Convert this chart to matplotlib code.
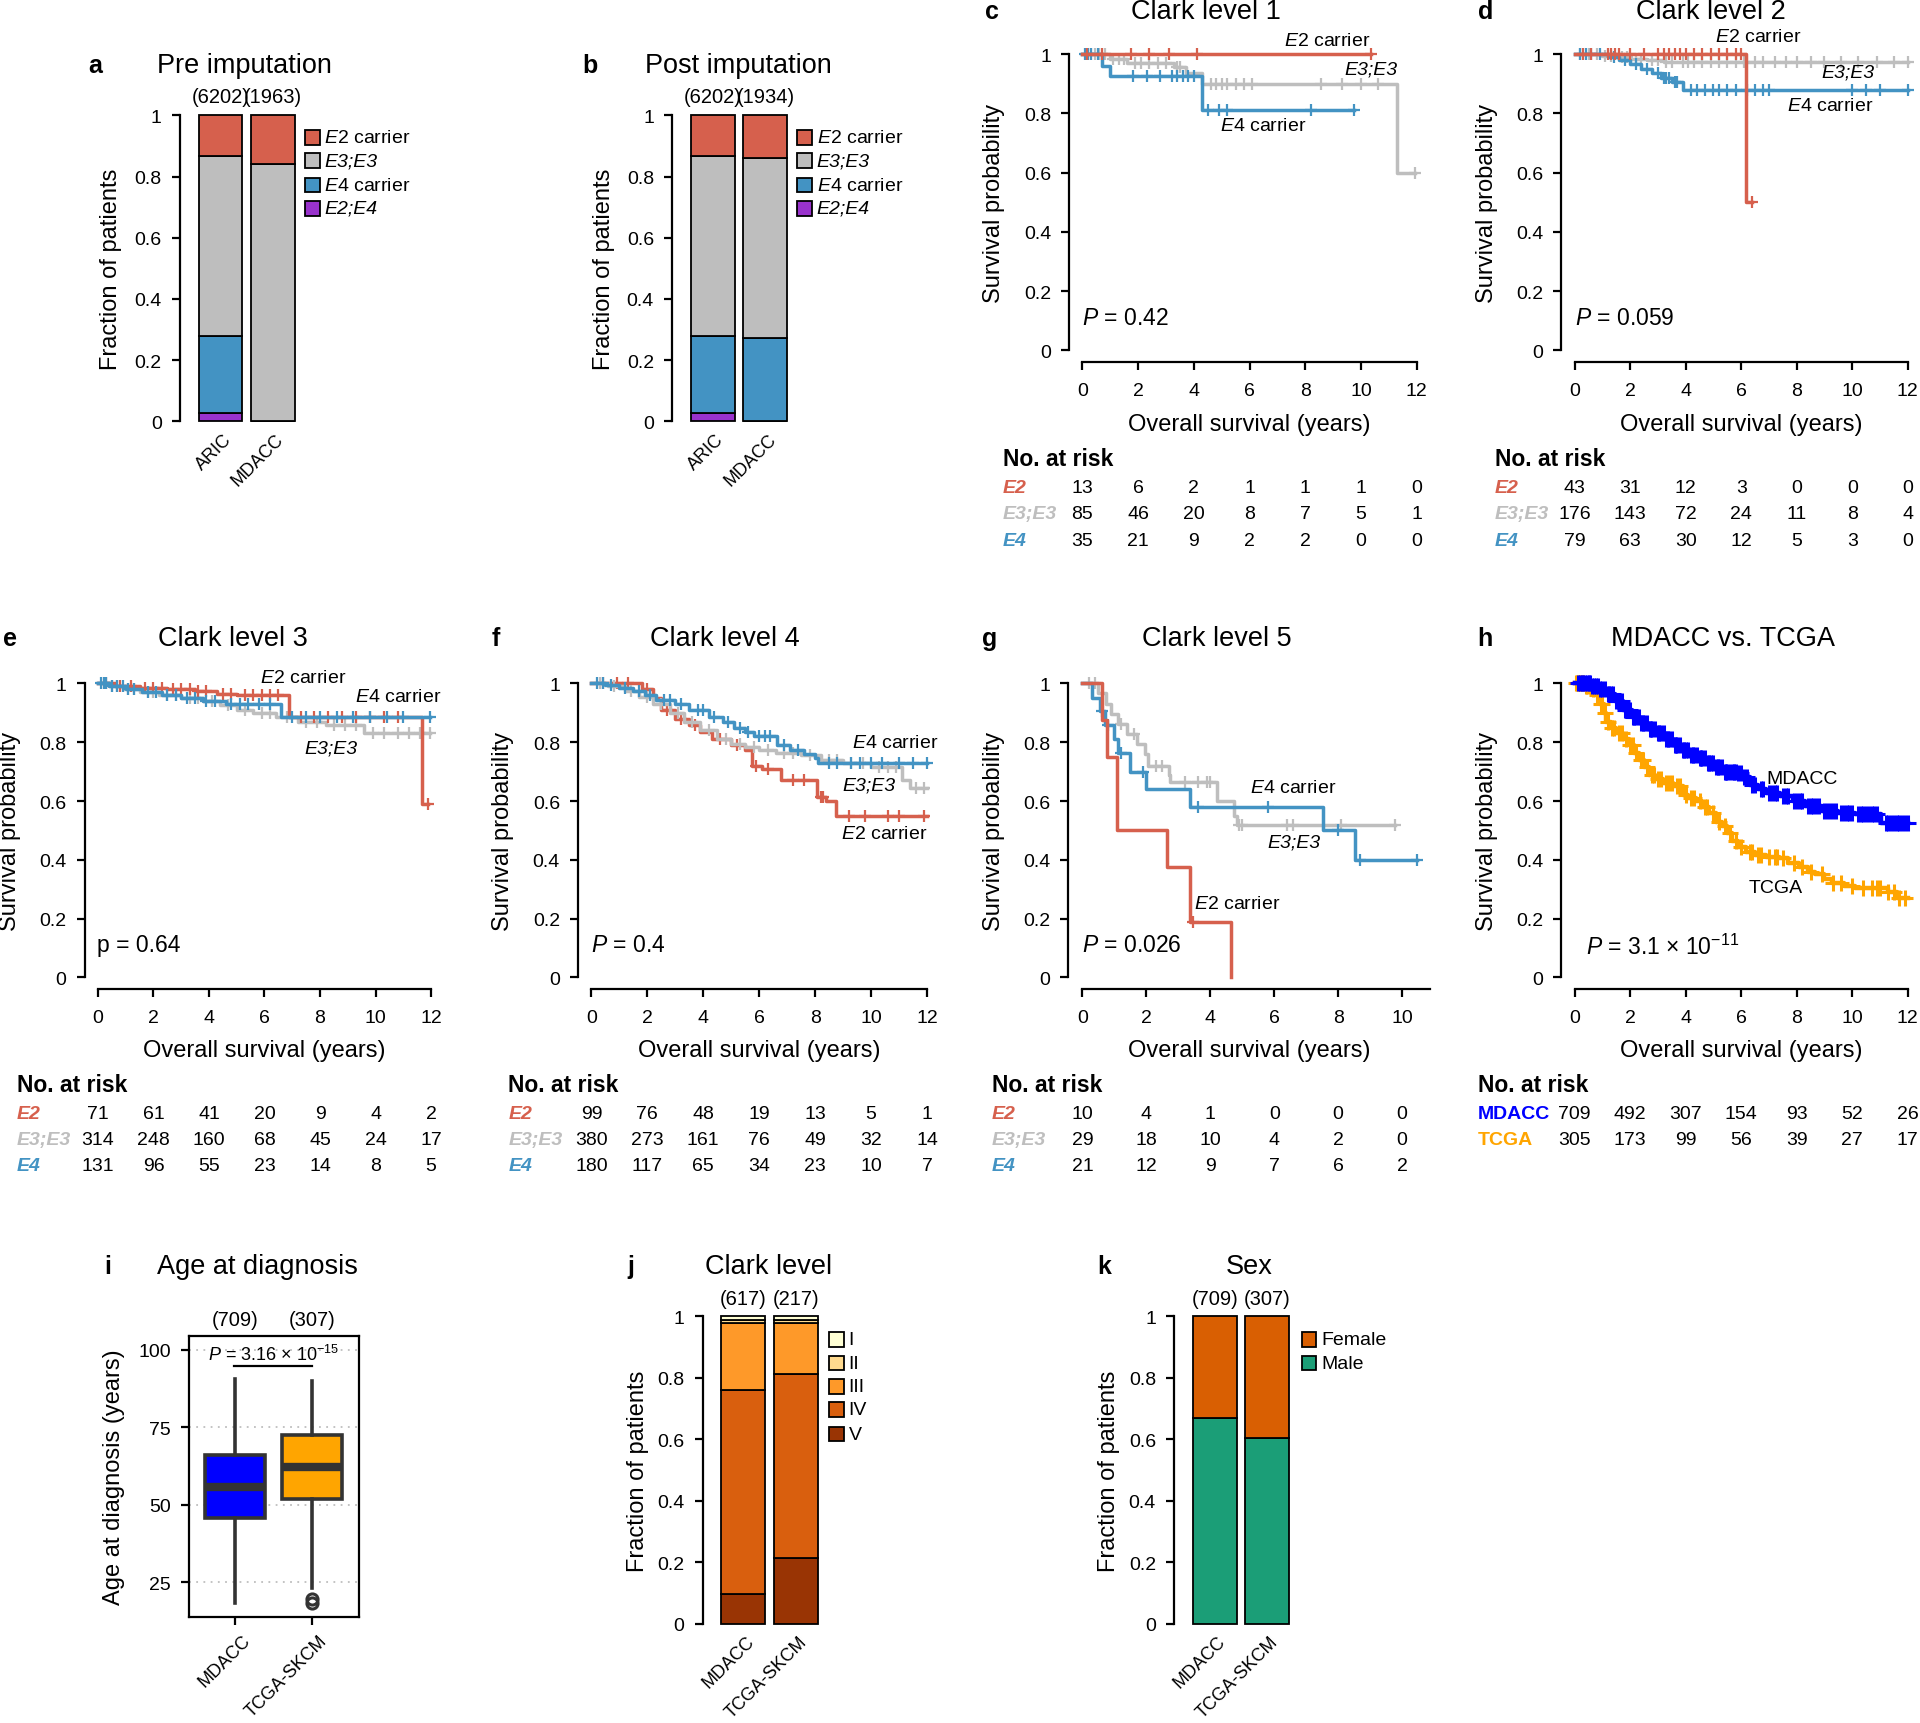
import numpy as np
import matplotlib
matplotlib.use('Agg')
import matplotlib.pyplot as plt
from matplotlib.patches import Rectangle
from matplotlib.transforms import blended_transform_factory

FONT = 'Liberation Sans'
plt.rcParams['font.family'] = [FONT, 'DejaVu Sans']
plt.rcParams['mathtext.fontset'] = 'custom'
plt.rcParams['mathtext.rm'] = FONT
plt.rcParams['mathtext.it'] = FONT + ':italic'
plt.rcParams['mathtext.bf'] = FONT + ':bold'

# ---------------- colours ----------------
RED = '#D6604D'
GREY = '#BEBEBE'
BLUE = '#4393C3'
PURPLE = '#9932CC'
MD_BLUE = '#0000FF'
TC_ORANGE = '#FFA500'
CLARK_COLORS = ['#FFFFD4', '#FED98E', '#FE9929', '#D95F0E', '#993404']
FEMALE_C = '#D95F02'
MALE_C = '#1B9E77'

# ---------------- data: panels a, b ----------------
APOE_GROUPS = ['E2 carrier', 'E3;E3', 'E4 carrier', 'E2;E4']
COHORTS_AB = ['ARIC', 'MDACC']
PRE_E24 = [0.027, 0.0]
PRE_E4 = [0.252, 0.0]
PRE_E33 = [0.588, 0.840]
PRE_E2 = [0.133, 0.160]
PRE_N = ['(6202)', '(1963)']
POST_E24 = [0.027, 0.0]
POST_E4 = [0.252, 0.274]
POST_E33 = [0.588, 0.585]
POST_E2 = [0.133, 0.141]
POST_N = ['(6202)', '(1934)']

# ---------------- data: KM panels ----------------
X_TICKS12 = [0, 2, 4, 6, 8, 10, 12]
X_TICKS10 = [0, 2, 4, 6, 8, 10]
Y_TICKS = [0, 0.2, 0.4, 0.6, 0.8, 1]
Y_TICKLABELS = ['0', '0.2', '0.4', '0.6', '0.8', '1']

# panel c: Clark level 1
C_E2_T = [0]; C_E2_S = [1.0]; C_E2_END = 10.35
C_E2_CENS = [0.15, 0.7, 1.75, 2.4, 3.1, 4.1, 10.35]
C_E33_T = [0, 1.0, 1.6, 3.3, 3.7, 4.3, 11.3]
C_E33_S = [1.0, 0.985, 0.97, 0.955, 0.935, 0.90, 0.60]
C_E33_END = 11.95
C_E33_CENS = [0.3, 0.45, 0.6, 0.8, 1.1, 1.3, 1.5, 1.9, 2.1, 2.4, 2.7, 3.0, 3.4, 3.5,
              4.6, 4.8, 5.0, 5.2, 5.5, 5.8, 6.1, 8.55, 9.3, 10.0, 10.6, 11.95]
C_E4_T = [0, 0.7, 1.0, 4.3]
C_E4_S = [1.0, 0.96, 0.925, 0.81]
C_E4_END = 9.76
C_E4_CENS = [0.1, 0.2, 0.3, 0.55, 1.8, 2.3, 2.8, 3.2, 3.4, 3.6, 3.8, 4.0, 4.5, 4.9, 5.2, 8.2, 9.76]
C_RISK_E2 = [13, 6, 2, 1, 1, 1, 0]
C_RISK_E33 = [85, 46, 20, 8, 7, 5, 1]
C_RISK_E4 = [35, 21, 9, 2, 2, 0, 0]

# panel d: Clark level 2
D_E2_T = [0, 6.17]; D_E2_S = [1.0, 0.5]; D_E2_END = 6.39
D_E2_CENS = [0.3, 0.6, 1.2, 1.3, 1.45, 1.6, 2.0, 2.5, 3.0, 3.2, 3.4, 3.6, 3.8, 4.0, 4.3,
             4.6, 4.9, 5.2, 5.5, 5.8, 6.0, 6.39]
D_E33_T = [0, 1.0, 1.5, 2.0, 2.6, 3.2, 3.7]
D_E33_S = [1.0, 0.995, 0.99, 0.985, 0.98, 0.975, 0.972]
D_E33_END = 12.0
D_E33_CENS = [0.2, 0.5, 0.8, 1.1, 1.3, 1.7, 1.9, 2.2, 2.4, 2.8, 3.0, 3.3, 3.5, 3.9, 4.1, 4.3,
              4.6, 4.9, 5.2, 5.5, 5.8, 6.1, 6.5, 6.8, 7.2, 7.6, 8.0, 8.5, 9.0, 9.6, 10.2,
              10.9, 11.5, 12.0]
D_E4_T = [0, 1.2, 1.6, 2.0, 2.4, 2.8, 3.1, 3.5, 3.9]
D_E4_S = [1.0, 0.99, 0.98, 0.965, 0.95, 0.935, 0.92, 0.905, 0.88]
D_E4_END = 12.0
D_E4_CENS = [0.2, 0.4, 0.6, 0.9, 1.4, 1.8, 2.2, 2.6, 3.0, 3.2, 3.3, 3.4, 3.6, 3.7, 4.2, 4.4,
             4.7, 5.0, 5.2, 5.5, 5.8, 6.2, 6.5, 6.8, 7.0, 10.0, 10.5, 11.0, 12.0]
D_RISK_E2 = [43, 31, 12, 3, 0, 0, 0]
D_RISK_E33 = [176, 143, 72, 24, 11, 8, 4]
D_RISK_E4 = [79, 63, 30, 12, 5, 3, 0]

# panel e: Clark level 3
E_E2_T = [0, 0.6, 1.5, 2.5, 3.5, 4.3, 5.0, 6.9, 11.67]
E_E2_S = [1.0, 0.99, 0.985, 0.98, 0.975, 0.965, 0.96, 0.885, 0.59]
E_E2_END = 11.9
E_E2_CENS = [0.3, 0.8, 1.2, 1.7, 2.0, 2.3, 2.7, 3.0, 3.3, 3.6, 3.9, 4.5, 4.8, 5.3, 5.6, 5.9,
             6.2, 6.5, 7.3, 7.8, 8.3, 8.8, 9.3, 9.8, 10.3, 10.8, 11.9]
E_E33_T = [0, 0.4, 0.9, 1.5, 2.2, 3.0, 3.8, 4.4, 5.0, 5.6, 6.4, 7.2, 8.2, 9.6]
E_E33_S = [1.0, 0.99, 0.98, 0.97, 0.96, 0.95, 0.94, 0.925, 0.91, 0.90, 0.885, 0.87, 0.86, 0.83]
E_E33_END = 11.95
E_E33_CENS = [0.2, 0.5, 0.7, 1.1, 1.3, 1.8, 2.0, 2.5, 2.8, 3.3, 3.6, 4.1, 4.7, 5.3, 5.9, 6.2,
              6.8, 7.5, 7.9, 8.5, 8.9, 9.3, 9.9, 10.3, 10.8, 11.2, 11.6, 11.95]
E_E4_T = [0, 0.4, 1.0, 1.6, 2.3, 3.0, 3.8, 4.6, 6.6]
E_E4_S = [1.0, 0.99, 0.98, 0.97, 0.96, 0.95, 0.94, 0.93, 0.885]
E_E4_END = 11.95
E_E4_CENS = [0.1, 0.2, 0.3, 0.5, 0.7, 0.9, 1.1, 1.3, 1.8, 2.1, 2.5, 2.8, 3.2, 3.5, 3.9, 4.2,
             4.8, 5.1, 5.4, 5.8, 6.2, 7.0, 7.5, 8.0, 8.6, 9.2, 9.8, 10.4, 11.0, 11.95]
E_RISK_E2 = [71, 61, 41, 20, 9, 4, 2]
E_RISK_E33 = [314, 248, 160, 68, 45, 24, 17]
E_RISK_E4 = [131, 96, 55, 23, 14, 8, 5]

# panel f: Clark level 4
F_E2_T = [0, 1.8, 2.2, 2.5, 3.0, 3.5, 3.9, 4.3, 5.0, 5.5, 5.76, 6.1, 6.79, 8.06, 8.4, 8.76]
F_E2_S = [1.0, 0.98, 0.95, 0.91, 0.88, 0.86, 0.835, 0.81, 0.79, 0.775, 0.72, 0.71, 0.67,
          0.615, 0.60, 0.55]
F_E2_END = 12.0
F_E2_CENS = [0.4, 0.9, 1.3, 2.0, 2.7, 3.2, 3.7, 4.6, 5.2, 5.9, 6.3, 7.2, 7.6, 8.2, 8.3,
             9.2, 9.8, 10.6, 11.0, 11.9]
F_E33_T = [0, 0.6, 1.2, 1.7, 2.2, 2.8, 3.3, 3.9, 4.5, 5.0, 5.5, 6.0, 6.6, 7.5, 8.2, 9.0,
           10.0, 11.1, 11.4]
F_E33_S = [1.0, 0.99, 0.975, 0.955, 0.93, 0.90, 0.87, 0.84, 0.81, 0.795, 0.785, 0.775,
           0.765, 0.755, 0.74, 0.73, 0.715, 0.67, 0.645]
F_E33_END = 12.0
F_E33_CENS = [0.3, 0.8, 1.4, 2.0, 2.5, 3.1, 3.6, 4.2, 4.8, 5.3, 5.8, 6.3, 6.9, 7.2, 7.8,
              8.5, 8.8, 9.3, 9.7, 10.3, 10.6, 10.9, 11.6, 11.9]
F_E4_T = [0, 0.5, 1.0, 1.5, 1.9, 2.3, 3.0, 3.5, 4.2, 4.7, 5.1, 5.5, 5.8, 6.65, 7.1, 7.6,
          8.0, 8.1]
F_E4_S = [1.0, 0.995, 0.985, 0.975, 0.96, 0.945, 0.93, 0.91, 0.885, 0.87, 0.85, 0.835,
          0.82, 0.79, 0.775, 0.76, 0.745, 0.73]
F_E4_END = 12.0
F_E4_CENS = [0.2, 0.4, 0.7, 1.2, 1.7, 2.1, 2.6, 2.8, 3.2, 3.8, 4.0, 4.4, 4.9, 5.3, 5.6,
             6.0, 6.2, 6.4, 6.9, 7.4, 8.5, 8.8, 9.3, 9.6, 10.0, 10.4, 11.0, 11.5, 12.0]
F_RISK_E2 = [99, 76, 48, 19, 13, 5, 1]
F_RISK_E33 = [380, 273, 161, 76, 49, 32, 14]
F_RISK_E4 = [180, 117, 65, 34, 23, 10, 7]

# panel g: Clark level 5
G_E2_T = [0, 0.6, 0.77, 1.08, 2.63, 3.38, 4.65]
G_E2_S = [1.0, 0.875, 0.75, 0.5, 0.375, 0.1875, 0.0]
G_E2_END = 4.65
G_E2_CENS = [3.45]
G_E33_T = [0, 0.5, 0.75, 0.9, 1.1, 1.4, 1.7, 1.95, 2.05, 2.7, 2.75, 4.2, 4.75, 4.85]
G_E33_S = [1.0, 0.966, 0.931, 0.897, 0.862, 0.828, 0.793, 0.759, 0.72, 0.69, 0.665, 0.60,
           0.55, 0.52]
G_E33_END = 9.77
G_E33_CENS = [0.2, 0.4, 1.2, 1.6, 2.3, 2.5, 3.2, 3.6, 3.9, 4.0, 4.9, 5.0, 6.4, 6.6, 8.1, 9.77]
G_E4_T = [0, 0.3, 0.55, 0.7, 1.0, 1.1, 1.5, 2.0, 3.37, 7.54, 8.52]
G_E4_S = [1.0, 0.952, 0.905, 0.857, 0.81, 0.762, 0.70, 0.64, 0.58, 0.50, 0.40]
G_E4_END = 10.48
G_E4_CENS = [0.6, 0.8, 1.2, 1.9, 3.6, 5.8, 8.0, 8.7, 10.48]
G_RISK_E2 = [10, 4, 1, 0, 0, 0]
G_RISK_E33 = [29, 18, 10, 4, 2, 0]
G_RISK_E4 = [21, 12, 9, 7, 6, 2]

# panel h: MDACC vs TCGA
H_MD_T = [0, 0.6, 0.9, 1.15, 1.45, 1.75, 2.05, 2.35, 2.65, 2.95, 3.25, 3.55, 3.85, 4.15,
          4.45, 4.75, 5.05, 5.35, 5.85, 6.05, 6.3, 6.6, 6.9, 7.4, 7.85, 8.3, 8.9, 9.5,
          10.1, 11.05]
H_MD_S = [1.0, 0.99, 0.98, 0.965, 0.94, 0.91, 0.885, 0.865, 0.845, 0.83, 0.81, 0.79,
          0.775, 0.757, 0.745, 0.73, 0.715, 0.70, 0.695, 0.68, 0.655, 0.64, 0.627, 0.616,
          0.60, 0.582, 0.565, 0.56, 0.557, 0.525]
H_MD_END = 12.0
H_MD_CENS = [0.12, 0.2, 0.25, 0.3, 0.38, 0.45, 0.5, 0.55, 0.62, 0.7, 0.78, 0.85, 0.92, 1.0,
             1.08, 1.2, 1.25, 1.3, 1.38, 1.5, 1.55, 1.6, 1.7, 1.8, 1.85, 1.9, 2.0, 2.1, 2.15,
             2.2, 2.3, 2.4, 2.45, 2.5, 2.6, 2.7, 2.75, 2.8, 2.9, 3.0, 3.05, 3.1, 3.2, 3.3,
             3.35, 3.4, 3.5, 3.6, 3.65, 3.7, 3.8, 3.9, 3.95, 4.0, 4.1, 4.2, 4.25, 4.3, 4.4,
             4.5, 4.55, 4.6, 4.7, 4.8, 4.85, 4.9, 5.0, 5.1, 5.15, 5.2, 5.3, 5.4, 5.45, 5.5,
             5.6, 5.7, 5.75, 5.8, 5.9, 6.0, 6.1, 6.2, 6.4, 6.5, 6.7, 6.8, 7.0, 7.1, 7.2, 7.3,
             7.5, 7.6, 7.7, 7.9, 8.0, 8.1, 8.2, 8.4, 8.5, 8.6, 8.7, 8.8, 9.0, 9.1, 9.2,
             9.3, 9.4, 9.6, 9.7, 9.8, 9.9, 10.0, 10.2, 10.3, 10.4, 10.5, 10.6, 10.7, 10.8,
             10.9, 11.2, 11.3, 11.4, 11.5, 11.6, 11.7, 11.8, 11.9, 12.0]
H_TC_T = [0, 0.35, 0.6, 0.72, 0.9, 1.05, 1.14, 1.3, 1.5, 1.75, 1.97, 2.15, 2.33, 2.5, 2.69,
          2.9, 3.17, 3.53, 3.89, 4.1, 4.37, 4.6, 4.84, 5.1, 5.32, 5.5, 5.68, 5.9, 6.16,
          6.5, 6.88, 7.36, 7.7, 8.08, 8.4, 8.67, 9.0, 9.27, 9.7, 10.1, 11.3, 11.6]
H_TC_S = [1.0, 0.99, 0.98, 0.96, 0.93, 0.90, 0.87, 0.85, 0.83, 0.81, 0.79, 0.765, 0.74,
          0.715, 0.69, 0.675, 0.66, 0.65, 0.62, 0.61, 0.60, 0.58, 0.56, 0.53, 0.515, 0.49,
          0.465, 0.445, 0.425, 0.415, 0.41, 0.405, 0.39, 0.375, 0.36, 0.35, 0.335, 0.32,
          0.31, 0.305, 0.29, 0.27]
H_TC_END = 12.0
H_TC_CENS = [0.05, 0.1, 0.15, 0.2, 0.25, 0.3, 0.4, 0.45, 0.55, 0.65, 0.8, 0.95, 1.0, 1.1,
             1.2, 1.35, 1.4, 1.6, 1.7, 1.85, 2.0, 2.1, 2.2, 2.4, 2.45, 2.6, 2.8, 2.85, 3.0,
             3.1, 3.3, 3.4, 3.5, 3.7, 3.8, 4.0, 4.2, 4.3, 4.5, 4.7, 4.75, 5.0, 5.2, 5.4,
             5.6, 5.8, 6.0, 6.3, 6.4, 6.6, 6.7, 7.0, 7.2, 7.3, 7.5, 7.9, 8.2, 8.5, 8.9,
             9.3, 9.6, 10.0, 10.4, 10.7, 10.9, 11.0, 11.3, 11.5, 11.7, 11.9]
H_RISK_MD = [709, 492, 307, 154, 93, 52, 26]
H_RISK_TC = [305, 173, 99, 56, 39, 27, 17]

# ---------------- data: panels i, j, k ----------------
COHORTS_IJK = ['MDACC', 'TCGA-SKCM']
AGE_N = ['(709)', '(307)']
AGE_Q1 = [45.6, 51.7]
AGE_MED = [55.8, 62.0]
AGE_Q3 = [65.9, 72.5]
AGE_LO = [18.3, 23.2]
AGE_HI = [90.7, 89.9]
AGE_FLIERS_TCGA = [18.2, 19.4]
AGE_TICKS = [25, 50, 75, 100]

CLARK_LEVELS = ['I', 'II', 'III', 'IV', 'V']
CLARK_N = ['(617)', '(217)']
CLARK_V = [0.096, 0.213]
CLARK_IV = [0.666, 0.599]
CLARK_III = [0.216, 0.168]
CLARK_II = [0.011, 0.010]
CLARK_I = [0.011, 0.010]

SEX_LABELS = ['Female', 'Male']
SEX_N = ['(709)', '(307)']
SEX_MALE = [0.671, 0.606]
SEX_FEMALE = [0.329, 0.394]

# ---------------- layout helpers (reference frame 1568 x 1408) ----------------
W, H = 1568.0, 1408.0
fig = plt.figure(figsize=(19.2, 17.24), dpi=100)
fig.patch.set_facecolor('white')

TICK_FS = 14
LAB_FS = 17
TITLE_FS = 19.5
LEG_FS = 14
SPINE_LW = 1.6


def fx(x):
    return x / W


def fy(y):
    return 1 - y / H


def add_ax(left, right, top, bottom):
    return fig.add_axes([fx(left), fy(bottom), (right - left) / W, (bottom - top) / H])


def ftext(x, y, s, **kw):
    kw.setdefault('ha', 'center')
    kw.setdefault('va', 'center')
    fig.text(fx(x), fy(y), s, **kw)


def panel_head(letter, lx, title, tx, y):
    ftext(lx, y, letter, fontsize=18, fontweight='bold')
    ftext(tx, y, title, fontsize=TITLE_FS)


def style_left_axis(ax, bounds):
    for sp in ['top', 'right']:
        ax.spines[sp].set_visible(False)
    ax.spines['left'].set_bounds(*bounds)
    ax.spines['left'].set_linewidth(SPINE_LW)
    ax.tick_params(axis='y', direction='out', length=6, width=SPINE_LW, pad=7,
                   labelsize=TICK_FS)


def legend_block(xsq, rows, labels, colors, italic=None):
    for i, (y, lab, col) in enumerate(zip(rows, labels, colors)):
        fig.patches.append(Rectangle((fx(xsq), fy(y + 6)), 12 / W, 12 / H,
                                     transform=fig.transFigure, facecolor=col,
                                     edgecolor='black', lw=1.3))
        st = 'italic' if (italic is not None and italic[i]) else 'normal'
        ftext(xsq + 16, y, lab, ha='left', fontsize=LEG_FS, style=st)


def bar_panel(x0, y1, y0, series, colors, counts, names, ylabel, ylab_x):
    u = 35.8
    v = y0 - y1
    ax = add_ax(x0 - 0.23 * u, x0 + 2.5 * u, y1 - 0.04 * v, y0 + 0.04 * v)
    ax.set_xlim(-0.23, 2.5)
    ax.set_ylim(-0.04, 1.04)
    centers = np.array([0.7, 1.9])
    bottom = np.zeros(2)
    for vals, col in zip(series, colors):
        vals = np.asarray(vals, dtype=float)
        ax.bar(centers, vals, width=1.0, bottom=bottom, color=col, edgecolor='black',
               linewidth=1.3, zorder=2)
        bottom = bottom + vals
    style_left_axis(ax, (0, 1))
    ax.spines['bottom'].set_visible(False)
    ax.set_xticks([])
    ax.set_yticks(Y_TICKS)
    ax.set_yticklabels(Y_TICKLABELS)
    for c, n in zip(centers, counts):
        ax.text(c, 1.06, n, ha='center', va='center', fontsize=14.5)
    for c, nm in zip(centers, names):
        ax.text(c + 0.05, -0.028, nm, rotation=45, ha='right', va='top',
                rotation_mode='anchor', fontsize=13)
    ftext(ylab_x, (y1 + y0) / 2, ylabel, rotation=90, fontsize=LAB_FS)
    return ax


def km_curve(ax, t, s, tend, cens, color, lw=2.5, ms=8, mew=1.6):
    tt = list(t) + [tend]
    ss = list(s) + [s[-1]]
    ax.step(tt, ss, where='post', color=color, lw=lw, clip_on=False, zorder=3)
    t_arr = np.asarray(t)
    s_arr = np.asarray(s)
    idx = np.searchsorted(t_arr, np.asarray(cens), side='right') - 1
    ax.plot(cens, s_arr[idx], ls='none', marker='+', ms=ms, mew=mew, color=color,
            clip_on=False, zorder=3)


def km_panel(x0, xr_disp, xr_val, y1, y0, xlim_r, axis_r, xticks):
    u = (xr_disp - x0) / xr_val
    v = y0 - y1
    xl = -0.48 if xr_val == 12 else -0.44
    ax = add_ax(x0 + xl * u, x0 + xlim_r * u, y1 - 0.04 * v, y0 + 0.04 * v)
    ax.set_xlim(xl, xlim_r)
    ax.set_ylim(-0.04, 1.04)
    style_left_axis(ax, (0, 1))
    ax.spines['bottom'].set_bounds(0, axis_r)
    ax.spines['bottom'].set_linewidth(SPINE_LW)
    ax.tick_params(axis='x', direction='out', length=6, width=SPINE_LW, pad=8,
                   labelsize=TICK_FS)
    ax.set_xticks(xticks)
    ax.set_xticklabels([str(x) for x in xticks])
    ax.set_yticks(Y_TICKS)
    ax.set_yticklabels(Y_TICKLABELS)
    ax.patch.set_alpha(0)
    bt = blended_transform_factory(ax.transAxes, ax.transData)
    ax.text(0.5, -0.247, 'Overall survival (years)', transform=bt, ha='center',
            va='center', fontsize=LAB_FS)
    ftext(x0 - 72, (y1 + y0) / 2, 'Survival probability', rotation=90, fontsize=LAB_FS)
    return ax, u


def risk_table(ax, u, xticks, rows, label_dx, bold_italic=True):
    ax.text(-label_dx / u, -0.364, 'No. at risk', ha='left', va='center',
            fontsize=16.5, fontweight='bold')
    ys = [-0.463, -0.552, -0.641]
    for (lab, col, nums), y in zip(rows, ys):
        ax.text(-label_dx / u, y, lab, ha='left', va='center', fontsize=TICK_FS,
                color=col, fontweight='bold', style='italic' if bold_italic else 'normal')
        for xt, n in zip(xticks, nums):
            ax.text(xt, y, str(n), ha='center', va='center', fontsize=TICK_FS)


def curve_label(ax, x, y, s, **kw):
    ax.text(x, y, s, ha='center', va='center', fontsize=LEG_FS, **kw)


E2C = r'$\mathit{E2}$ carrier'
E4C = r'$\mathit{E4}$ carrier'

# ================= panel a =================
panel_head('a', 78, 'Pre imputation', 200, 54)
bar_panel(155, 95, 345, [PRE_E24, PRE_E4, PRE_E33, PRE_E2],
          [PURPLE, BLUE, GREY, RED], PRE_N, COHORTS_AB, 'Fraction of patients', 91)
legend_block(249, [113, 132, 152, 171], [E2C, 'E3;E3', E4C, 'E2;E4'],
             [RED, GREY, BLUE, PURPLE], italic=[False, True, False, True])

# ================= panel b =================
panel_head('b', 482, 'Post imputation', 603, 54)
bar_panel(557, 95, 345, [POST_E24, POST_E4, POST_E33, POST_E2],
          [PURPLE, BLUE, GREY, RED], POST_N, COHORTS_AB, 'Fraction of patients', 493)
legend_block(651, [113, 132, 152, 171], [E2C, 'E3;E3', E4C, 'E2;E4'],
             [RED, GREY, BLUE, PURPLE], italic=[False, True, False, True])

# ================= panel c =================
panel_head('c', 810, 'Clark level 1', 985, 10)
ax, u = km_panel(884, 1157, 12, 45, 287, 12.48, 12, X_TICKS12)
km_curve(ax, C_E33_T, C_E33_S, C_E33_END, C_E33_CENS, GREY)
km_curve(ax, C_E4_T, C_E4_S, C_E4_END, C_E4_CENS, BLUE)
km_curve(ax, C_E2_T, C_E2_S, C_E2_END, C_E2_CENS, RED)
curve_label(ax, 8.8, 1.045, E2C)
curve_label(ax, 10.35, 0.95, 'E3;E3', style='italic')
curve_label(ax, 6.5, 0.76, E4C)
ax.text(0.0, 0.11, r'$\mathit{P}$ = 0.42', ha='left', va='center', fontsize=16.5)
risk_table(ax, u, X_TICKS12, [('E2', RED, C_RISK_E2), ('E3;E3', GREY, C_RISK_E33),
                              ('E4', BLUE, C_RISK_E4)], 65)

# ================= panel d =================
panel_head('d', 1213, 'Clark level 2', 1397, 10)
ax, u = km_panel(1286, 1558, 12, 45, 287, 12.48, 12, X_TICKS12)
km_curve(ax, D_E33_T, D_E33_S, D_E33_END, D_E33_CENS, GREY)
km_curve(ax, D_E4_T, D_E4_S, D_E4_END, D_E4_CENS, BLUE)
km_curve(ax, D_E2_T, D_E2_S, D_E2_END, D_E2_CENS, RED)
curve_label(ax, 6.6, 1.06, E2C)
curve_label(ax, 9.85, 0.94, 'E3;E3', style='italic')
curve_label(ax, 9.2, 0.825, E4C)
ax.text(0.0, 0.11, r'$\mathit{P}$ = 0.059', ha='left', va='center', fontsize=16.5)
risk_table(ax, u, X_TICKS12, [('E2', RED, D_RISK_E2), ('E3;E3', GREY, D_RISK_E33),
                              ('E4', BLUE, D_RISK_E4)], 65)

# ================= panel e =================
panel_head('e', 8, 'Clark level 3', 190, 522)
ax, u = km_panel(80, 352, 12, 559, 799, 12.48, 12, X_TICKS12)
km_curve(ax, E_E33_T, E_E33_S, E_E33_END, E_E33_CENS, GREY)
km_curve(ax, E_E2_T, E_E2_S, E_E2_END, E_E2_CENS, RED)
km_curve(ax, E_E4_T, E_E4_S, E_E4_END, E_E4_CENS, BLUE)
curve_label(ax, 7.4, 1.02, E2C)
curve_label(ax, 10.8, 0.957, E4C)
curve_label(ax, 8.4, 0.78, 'E3;E3', style='italic')
ax.text(-0.05, 0.11, 'p = 0.64', ha='left', va='center', fontsize=16.5)
risk_table(ax, u, X_TICKS12, [('E2', RED, E_RISK_E2), ('E3;E3', GREY, E_RISK_E33),
                              ('E4', BLUE, E_RISK_E4)], 66)

# ================= panel f =================
panel_head('f', 405, 'Clark level 4', 592, 522)
ax, u = km_panel(483, 757, 12, 559, 799, 12.48, 12, X_TICKS12)
km_curve(ax, F_E2_T, F_E2_S, F_E2_END, F_E2_CENS, RED)
km_curve(ax, F_E33_T, F_E33_S, F_E33_END, F_E33_CENS, GREY)
km_curve(ax, F_E4_T, F_E4_S, F_E4_END, F_E4_CENS, BLUE)
curve_label(ax, 10.86, 0.80, E4C)
curve_label(ax, 9.92, 0.653, 'E3;E3', style='italic')
curve_label(ax, 10.47, 0.49, E2C)
ax.text(0.0, 0.11, r'$\mathit{P}$ = 0.4', ha='left', va='center', fontsize=16.5)
risk_table(ax, u, X_TICKS12, [('E2', RED, F_RISK_E2), ('E3;E3', GREY, F_RISK_E33),
                              ('E4', BLUE, F_RISK_E4)], 68)

# ================= panel g =================
panel_head('g', 808, 'Clark level 5', 994, 522)
ax, u = km_panel(884, 1145, 10, 559, 799, 10.88, 10.88, X_TICKS10)
km_curve(ax, G_E33_T, G_E33_S, G_E33_END, G_E33_CENS, GREY)
km_curve(ax, G_E4_T, G_E4_S, G_E4_END, G_E4_CENS, BLUE)
km_curve(ax, G_E2_T, G_E2_S, G_E2_END, G_E2_CENS, RED)
curve_label(ax, 6.6, 0.645, E4C)
curve_label(ax, 6.63, 0.46, 'E3;E3', style='italic')
curve_label(ax, 4.85, 0.25, E2C)
ax.text(0.0, 0.11, r'$\mathit{P}$ = 0.026', ha='left', va='center', fontsize=16.5)
risk_table(ax, u, X_TICKS10, [('E2', RED, G_RISK_E2), ('E3;E3', GREY, G_RISK_E33),
                              ('E4', BLUE, G_RISK_E4)], 74)

# ================= panel h =================
panel_head('h', 1213, 'MDACC vs. TCGA', 1407, 522)
ax, u = km_panel(1286, 1558, 12, 559, 799, 12.48, 12, X_TICKS12)
km_curve(ax, H_TC_T, H_TC_S, H_TC_END, H_TC_CENS, TC_ORANGE, lw=3.2, ms=11, mew=2.2)
km_curve(ax, H_MD_T, H_MD_S, H_MD_END, H_MD_CENS, MD_BLUE, lw=3.2, ms=11, mew=2.2)
curve_label(ax, 8.2, 0.678, 'MDACC')
curve_label(ax, 7.24, 0.305, 'TCGA')
ax.text(0.4, 0.107, r'$\mathit{P}$ = 3.1 × $10^{-11}$', ha='left', va='center',
        fontsize=16.5)
risk_table(ax, u, X_TICKS12, [('MDACC', MD_BLUE, H_RISK_MD), ('TCGA', TC_ORANGE, H_RISK_TC)],
           79, bold_italic=False)

# ================= panel i =================
panel_head('i', 88, 'Age at diagnosis', 210, 1035)
axi = add_ax(154.4, 292.8, 1092.3, 1321.2)
axi.set_xlim(0.4, 2.6)
axi.set_ylim(13.8, 104.3)
for yv in AGE_TICKS:
    axi.axhline(yv, color='#BEBEBE', ls=(0, (1, 3)), lw=1.3, zorder=0)
stats = []
for k in range(2):
    stats.append(dict(med=AGE_MED[k], q1=AGE_Q1[k], q3=AGE_Q3[k], whislo=AGE_LO[k],
                      whishi=AGE_HI[k], fliers=AGE_FLIERS_TCGA if k == 1 else []))
bp = axi.bxp(stats, positions=[1, 2], widths=0.78, patch_artist=True, showcaps=False,
             boxprops=dict(lw=2.6, edgecolor='#333333'),
             medianprops=dict(color='#333333', lw=6, solid_capstyle='butt'),
             whiskerprops=dict(color='#333333', lw=2.6),
             flierprops=dict(marker='o', mfc='none', mec='#333333', ms=8, mew=2.2))
for patch, col in zip(bp['boxes'], [MD_BLUE, TC_ORANGE]):
    patch.set_facecolor(col)
for sp in axi.spines.values():
    sp.set_linewidth(SPINE_LW)
axi.set_yticks(AGE_TICKS)
axi.set_yticklabels([str(a) for a in AGE_TICKS])
axi.tick_params(axis='y', direction='out', length=6, width=SPINE_LW, pad=7,
                labelsize=TICK_FS)
axi.set_xticks([1, 2])
axi.set_xticklabels(['', ''])
axi.tick_params(axis='x', direction='out', length=6, width=SPINE_LW)
axi.text(1.5, 98.6, r'$\mathit{P}$ = 3.16 × $10^{-15}$', ha='center', va='center',
         fontsize=13)
axi.plot([0.98, 1.99], [94.6, 94.6], color='black', lw=1.6)
for xk, n in zip([1, 2], AGE_N):
    axi.text(xk, 109.7, n, ha='center', va='center', fontsize=14.5, clip_on=False)
for xk, nm in zip([1, 2], COHORTS_IJK):
    axi.text(xk + 0.08, 9.0, nm, rotation=45, ha='right', va='top',
             rotation_mode='anchor', fontsize=13, clip_on=False)
ftext(93, (1092.3 + 1321.2) / 2, 'Age at diagnosis (years)', rotation=90, fontsize=LAB_FS)

# ================= panel j =================
panel_head('j', 515, 'Clark level', 628, 1035)
bar_panel(582, 1076, 1327, [CLARK_V, CLARK_IV, CLARK_III, CLARK_II, CLARK_I],
          CLARK_COLORS[::-1], CLARK_N, COHORTS_IJK, 'Fraction of patients', 521)
legend_block(677, [1095, 1114, 1133, 1152, 1172], CLARK_LEVELS, CLARK_COLORS)

# ================= panel k =================
panel_head('k', 902, 'Sex', 1020, 1035)
bar_panel(967, 1076, 1327, [SEX_MALE, SEX_FEMALE], [MALE_C, FEMALE_C], SEX_N,
          COHORTS_IJK, 'Fraction of patients', 906)
legend_block(1063, [1095, 1114], SEX_LABELS, [FEMALE_C, MALE_C])

fig.savefig('out.png', dpi=100, facecolor='white')
